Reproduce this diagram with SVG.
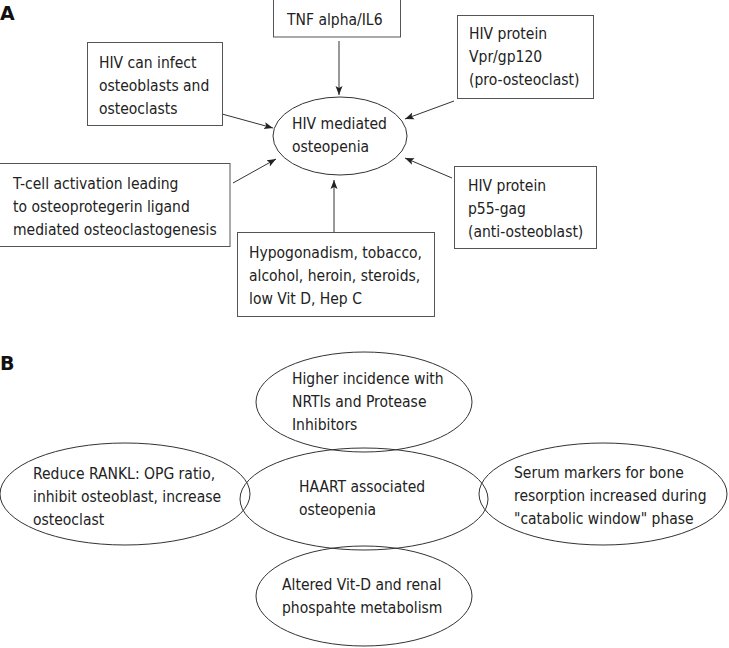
<svg xmlns="http://www.w3.org/2000/svg" width="729" height="648" viewBox="0 0 729 648">
<defs>
<marker id="arr" markerUnits="userSpaceOnUse" markerWidth="10" markerHeight="8" refX="9" refY="4" orient="auto">
<path d="M0,0.5 L9,4 L0,7.5 L2,4 Z" fill="#222"/>
</marker>
<style>
.box{fill:#fff;stroke:#555;stroke-width:1}
.ell{fill:none;stroke:#333;stroke-width:1}
.t{font-family:"DejaVu Sans Condensed","DejaVu Sans",sans-serif;font-size:15.5px;fill:#222}
.lbl{font-family:"DejaVu Sans","Liberation Sans",sans-serif;font-size:19px;font-weight:bold;fill:#111}
.c{stroke:#333;stroke-width:1;fill:none;marker-end:url(#arr)}
</style>
</defs>
<rect width="729" height="648" fill="#fff"/>
<text class="lbl" x="0" y="20">A</text>
<text class="lbl" x="0" y="370">B</text>

<g id="connectors">
<line class="c" x1="339" y1="41" x2="339" y2="95"/>
<line class="c" x1="222" y1="114" x2="273" y2="128"/>
<line class="c" x1="233" y1="183" x2="276" y2="159"/>
<line class="c" x1="334" y1="232" x2="334" y2="180"/>
<line class="c" x1="452" y1="178" x2="405" y2="158"/>
<line class="c" x1="454" y1="101" x2="405" y2="119"/>
</g>

<g id="tnf">
<rect class="box" x="273.5" y="-1" width="127" height="38"/>
<text class="t" x="287" y="25">TNF alpha/IL6</text>
</g>
<g id="hiv-infect">
<rect class="box" x="87.5" y="42.5" width="135" height="83"/>
<text class="t" x="99" y="68">HIV can infect</text>
<text class="t" x="99" y="91">osteoblasts and</text>
<text class="t" x="99" y="114">osteoclasts</text>
</g>
<g id="vpr">
<rect class="box" x="457.5" y="15.5" width="136" height="83"/>
<text class="t" x="469" y="39">HIV protein</text>
<text class="t" x="469" y="62">Vpr/gp120</text>
<text class="t" x="469" y="85">(pro-osteoclast)</text>
</g>
<g id="hiv-mediated">
<ellipse class="ell" cx="340" cy="136" rx="67" ry="39"/>
<text class="t" x="292" y="129">HIV mediated</text>
<text class="t" x="292" y="152">osteopenia</text>
</g>
<g id="tcell">
<rect class="box" x="-1" y="163.5" width="231" height="83"/>
<text class="t" x="13" y="189">T-cell activation leading</text>
<text class="t" x="13" y="212">to osteoprotegerin ligand</text>
<text class="t" x="13" y="235">mediated osteoclastogenesis</text>
</g>
<g id="p55">
<rect class="box" x="454.5" y="166.5" width="142" height="82"/>
<text class="t" x="468" y="191">HIV protein</text>
<text class="t" x="468" y="214">p55-gag</text>
<text class="t" x="468" y="237">(anti-osteoblast)</text>
</g>
<g id="hypogonadism">
<rect class="box" x="237.5" y="232.5" width="197" height="84"/>
<text class="t" x="249" y="258">Hypogonadism, tobacco,</text>
<text class="t" x="249" y="281">alcohol, heroin, steroids,</text>
<text class="t" x="249" y="304">low Vit D, Hep C</text>
</g>

<g id="nrti">
<ellipse class="ell" cx="364" cy="402" rx="108" ry="50"/>
<text class="t" x="292" y="384">Higher incidence with</text>
<text class="t" x="292" y="407">NRTIs and Protease</text>
<text class="t" x="292" y="430">Inhibitors</text>
</g>
<g id="haart">
<ellipse class="ell" cx="364" cy="499" rx="124" ry="51"/>
<text class="t" x="299" y="492">HAART associated</text>
<text class="t" x="299" y="515">osteopenia</text>
</g>
<g id="rankl">
<ellipse class="ell" cx="125" cy="494" rx="125" ry="51"/>
<text class="t" x="33" y="479">Reduce RANKL: OPG ratio,</text>
<text class="t" x="33" y="502">inhibit osteoblast, increase</text>
<text class="t" x="33" y="525">osteoclast</text>
</g>
<g id="serum">
<ellipse class="ell" cx="603" cy="494" rx="124" ry="51"/>
<text class="t" x="514" y="478">Serum markers for bone</text>
<text class="t" x="514" y="501">resorption increased during</text>
<text class="t" x="514" y="524">"catabolic window" phase</text>
</g>
<g id="vitd">
<ellipse class="ell" cx="364" cy="596" rx="108" ry="50"/>
<text class="t" x="282" y="590">Altered Vit-D and renal</text>
<text class="t" x="282" y="613">phospahte metabolism</text>
</g>
</svg>
